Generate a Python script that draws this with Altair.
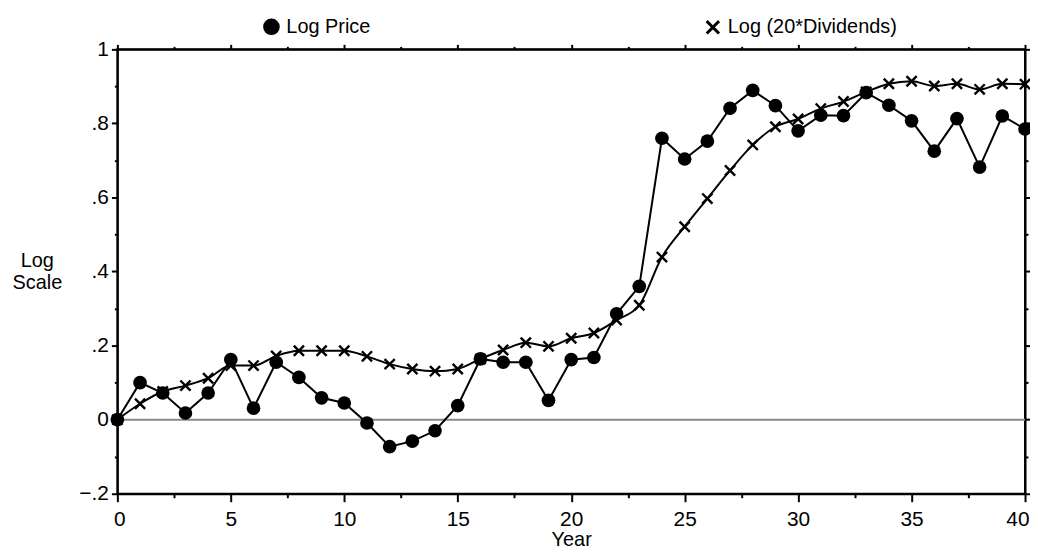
import altair as alt
import pandas as pd

years = list(range(41))
log_price = [0.0, 0.100, 0.072, 0.018, 0.072, 0.162, 0.031, 0.155, 0.114, 0.059,
             0.045, -0.009, -0.073, -0.058, -0.030, 0.038, 0.164, 0.155, 0.155, 0.052,
             0.162, 0.168, 0.286, 0.360, 0.760, 0.704, 0.752, 0.841, 0.889, 0.848,
             0.780, 0.822, 0.821, 0.883, 0.849, 0.807, 0.725, 0.813, 0.682, 0.820,
             0.785]
log_div = [0.0, 0.043, 0.076, 0.092, 0.112, 0.146, 0.146, 0.172, 0.186, 0.186,
           0.186, 0.171, 0.150, 0.137, 0.131, 0.137, 0.164, 0.188, 0.208, 0.198,
           0.220, 0.234, 0.269, 0.309, 0.439, 0.521, 0.597, 0.673, 0.742, 0.791,
           0.812, 0.840, 0.859, 0.885, 0.907, 0.914, 0.901, 0.907, 0.892, 0.907,
           0.906]
series_names = ["Log Price", "Log (20*Dividends)"]
x_ticks = [i * 2.5 for i in range(17)]
y_ticks = [round(-0.2 + 0.1 * i, 1) for i in range(13)]
zero_line = [0.0]

df = pd.DataFrame({
    "Year": years + years,
    "Value": log_price + log_div,
    "Series": [series_names[0]] * len(years) + [series_names[1]] * len(years),
})
zdf = pd.DataFrame({"z": zero_line})

FONT = "Liberation Sans, Arial"


def x_path(e, w):
    pts = [(-e + w, -e), (0, -w), (e - w, -e), (e, -e + w), (w, 0), (e, e - w),
           (e - w, e), (0, w), (-e + w, e), (-e, e - w), (-w, 0), (-e, -e + w)]
    return "M" + "L".join(f"{a:.3f},{b:.3f}" for a, b in pts) + "Z"


CROSS = x_path(0.87, 0.25)

xs = alt.Scale(domain=[0, 40], nice=False, zero=False)
ys = alt.Scale(domain=[-0.2, 1], nice=False, zero=False)

x_major = "datum.value % 5 == 0"
y_major = "abs(round(datum.value * 10)) % 2 == 0"

x_bottom = alt.Axis(
    orient="bottom", values=x_ticks,
    labelExpr="datum.value % 5 == 0 ? toString(datum.value) : ''",
    tickSize={"condition": {"test": x_major, "value": 8}, "value": 4},
    labelPadding=7, labelFlushOffset=4, title="Year", titlePadding=0,
)
x_top = alt.Axis(
    orient="top", values=x_ticks, labels=False, title=None,
    tickSize={"condition": {"test": x_major, "value": 5}, "value": 3},
)
y_left = alt.Axis(
    orient="left", values=y_ticks,
    labelExpr="abs(round(datum.value * 10)) % 2 == 1 ? '' : (datum.value == 1 ? '1' : (datum.value == 0 ? '0' : replace(format(datum.value, '.1f'), '0.', '.')))",
    tickSize={"condition": {"test": y_major, "value": 6}, "value": 3},
    labelPadding=3,
    title=["Log", "Scale"], titleAngle=0, titleAlign="center", titleBaseline="top",
    titleX=-81, titleY=202, titleLineHeight=23,
)
y_right = alt.Axis(
    orient="right", values=y_ticks, labels=False, title=None,
    tickSize={"condition": {"test": y_major, "value": 5}, "value": 3},
)

zero = alt.Chart(zdf).mark_rule(color="#8a8a8a", strokeWidth=2).encode(
    y=alt.Y("z:Q", scale=ys, axis=None)
)

div_line = alt.Chart(df).transform_filter(
    alt.datum.Series == series_names[1]
).mark_line(color="black", strokeWidth=2, interpolate="monotone").encode(
    x=alt.X("Year:Q", scale=xs, axis=x_top),
    y=alt.Y("Value:Q", scale=ys, axis=y_right),
)

price_line = alt.Chart(df).transform_filter(
    alt.datum.Series == series_names[0]
).mark_line(color="black", strokeWidth=2).encode(
    x=alt.X("Year:Q", scale=xs, axis=x_bottom),
    y=alt.Y("Value:Q", scale=ys, axis=y_left),
)

points = alt.Chart(df).mark_point(
    filled=True, color="black", size=189, opacity=1
).encode(
    x=alt.X("Year:Q", scale=xs, axis=None),
    y=alt.Y("Value:Q", scale=ys, axis=None),
    shape=alt.Shape(
        "Series:N",
        scale=alt.Scale(domain=series_names, range=["circle", CROSS]),
        legend=alt.Legend(
            title=None, orient="none", direction="horizontal",
            legendX=145, legendY=-33, columnPadding=333, labelLimit=400,
        ),
    ),
)

chart = alt.layer(zero, div_line, price_line, points).resolve_axis(
    x="independent", y="independent"
).properties(
    width=913, height=447,
    padding={"left": 110, "top": 40, "right": 5, "bottom": 55},
    autosize=alt.AutoSizeParams(type="none"),
).configure_view(
    stroke="black", strokeWidth=2
).configure_axis(
    domainColor="black", domainWidth=2, tickColor="black", tickWidth=2,
    labelFont=FONT, labelFontSize=21, labelColor="black",
    titleFont=FONT, titleFontSize=20, titleFontWeight="normal", titleColor="black",
    grid=False,
).configure_legend(
    labelFont=FONT, labelFontSize=20, labelColor="black",
    symbolSize=280, symbolFillColor="black", symbolStrokeColor="black",
    symbolStrokeWidth=1.5, labelOffset=5, padding=0,
)

chart.save("out.html", embed_options={"renderer": "svg", "actions": False})
